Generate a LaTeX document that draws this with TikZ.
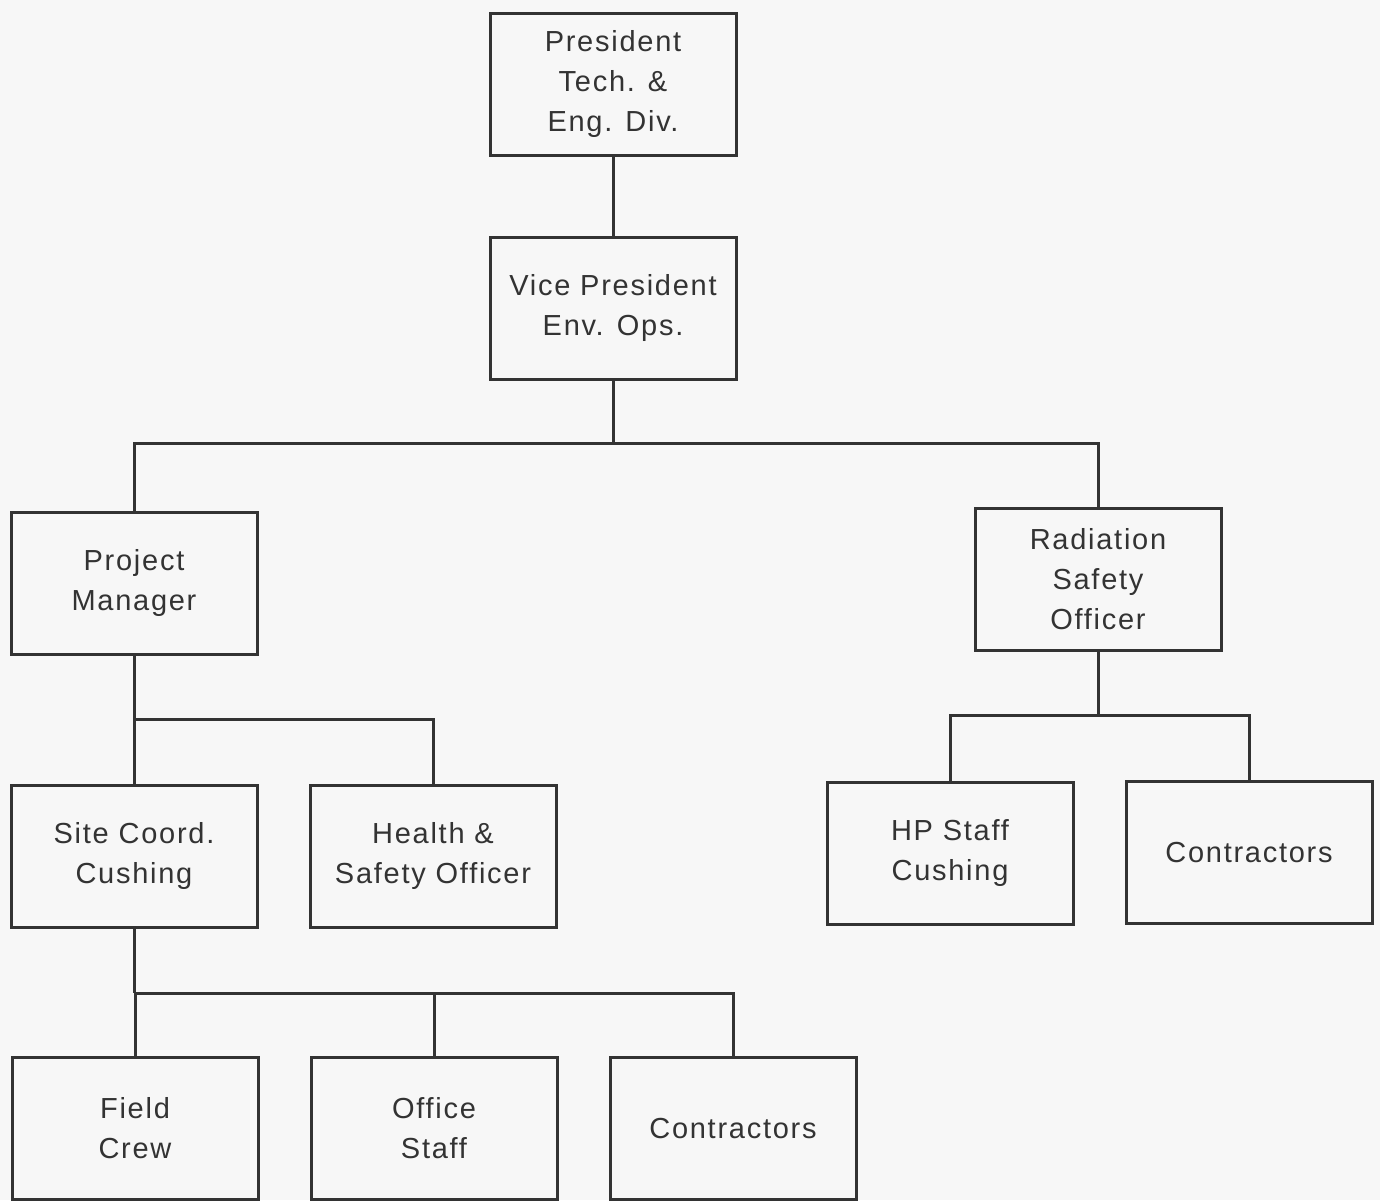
\documentclass[tikz,border=0pt]{standalone}
\usepackage{fontspec}
\setmainfont{Liberation Sans}[LetterSpace=6]
\begin{document}
\begin{tikzpicture}[x=1pt,y=-1pt,
  box/.style={draw=black!80,line width=3pt,minimum width=246pt,minimum height=142pt,
    align=center,font=\fontsize{29}{40}\selectfont,text=black!80,inner sep=0pt},
  conn/.style={draw=black!80,line width=3pt}]
\fill[black!3] (0,0) rectangle (1380,1200);
\useasboundingbox (0,0) rectangle (1380,1200);
\node[box] (pres) at (613,84) {President\\Tech. \&\\Eng. Div.};
\node[box] (vp) at (613,308) {Vice President\\Env. Ops.};
\node[box] (pm) at (134,583) {Project\\Manager};
\node[box] (rso) at (1098,579) {Radiation\\Safety\\Officer};
\node[box] (site) at (134,856) {Site Coord.\\Cushing};
\node[box] (hs) at (433,856) {Health \&\\Safety Officer};
\node[box] (hp) at (950,853) {HP Staff\\Cushing};
\node[box] (con1) at (1249,852) {Contractors};
\node[box] (fc) at (135,1128) {Field\\Crew};
\node[box] (os) at (434,1128) {Office\\Staff};
\node[box] (con2) at (733,1128) {Contractors};
\coordinate (b1) at (0,443);
\coordinate (b2) at (0,719);
\coordinate (b3) at (0,715);
\coordinate (b4) at (0,993);
\draw[conn] (pres.south) -- (vp.north);
\draw[conn] (vp.south) -- (vp.south|-b1);
\draw[conn] (pm.north) -- (pm.north|-b1) -- (rso.north|-b1) -- (rso.north);
\draw[conn] (pm.south) -- (site.north);
\draw[conn] (pm.south|-b2) -- (hs.north|-b2) -- (hs.north);
\draw[conn] (rso.south) -- (rso.south|-b3);
\draw[conn] (hp.north) -- (hp.north|-b3) -- (con1.north|-b3) -- (con1.north);
\draw[conn] (site.south) -- (site.south|-b4);
\draw[conn] (fc.north) -- (fc.north|-b4) -- (con2.north|-b4) -- (con2.north);
\draw[conn] (os.north) -- (os.north|-b4);
\end{tikzpicture}
\end{document}
